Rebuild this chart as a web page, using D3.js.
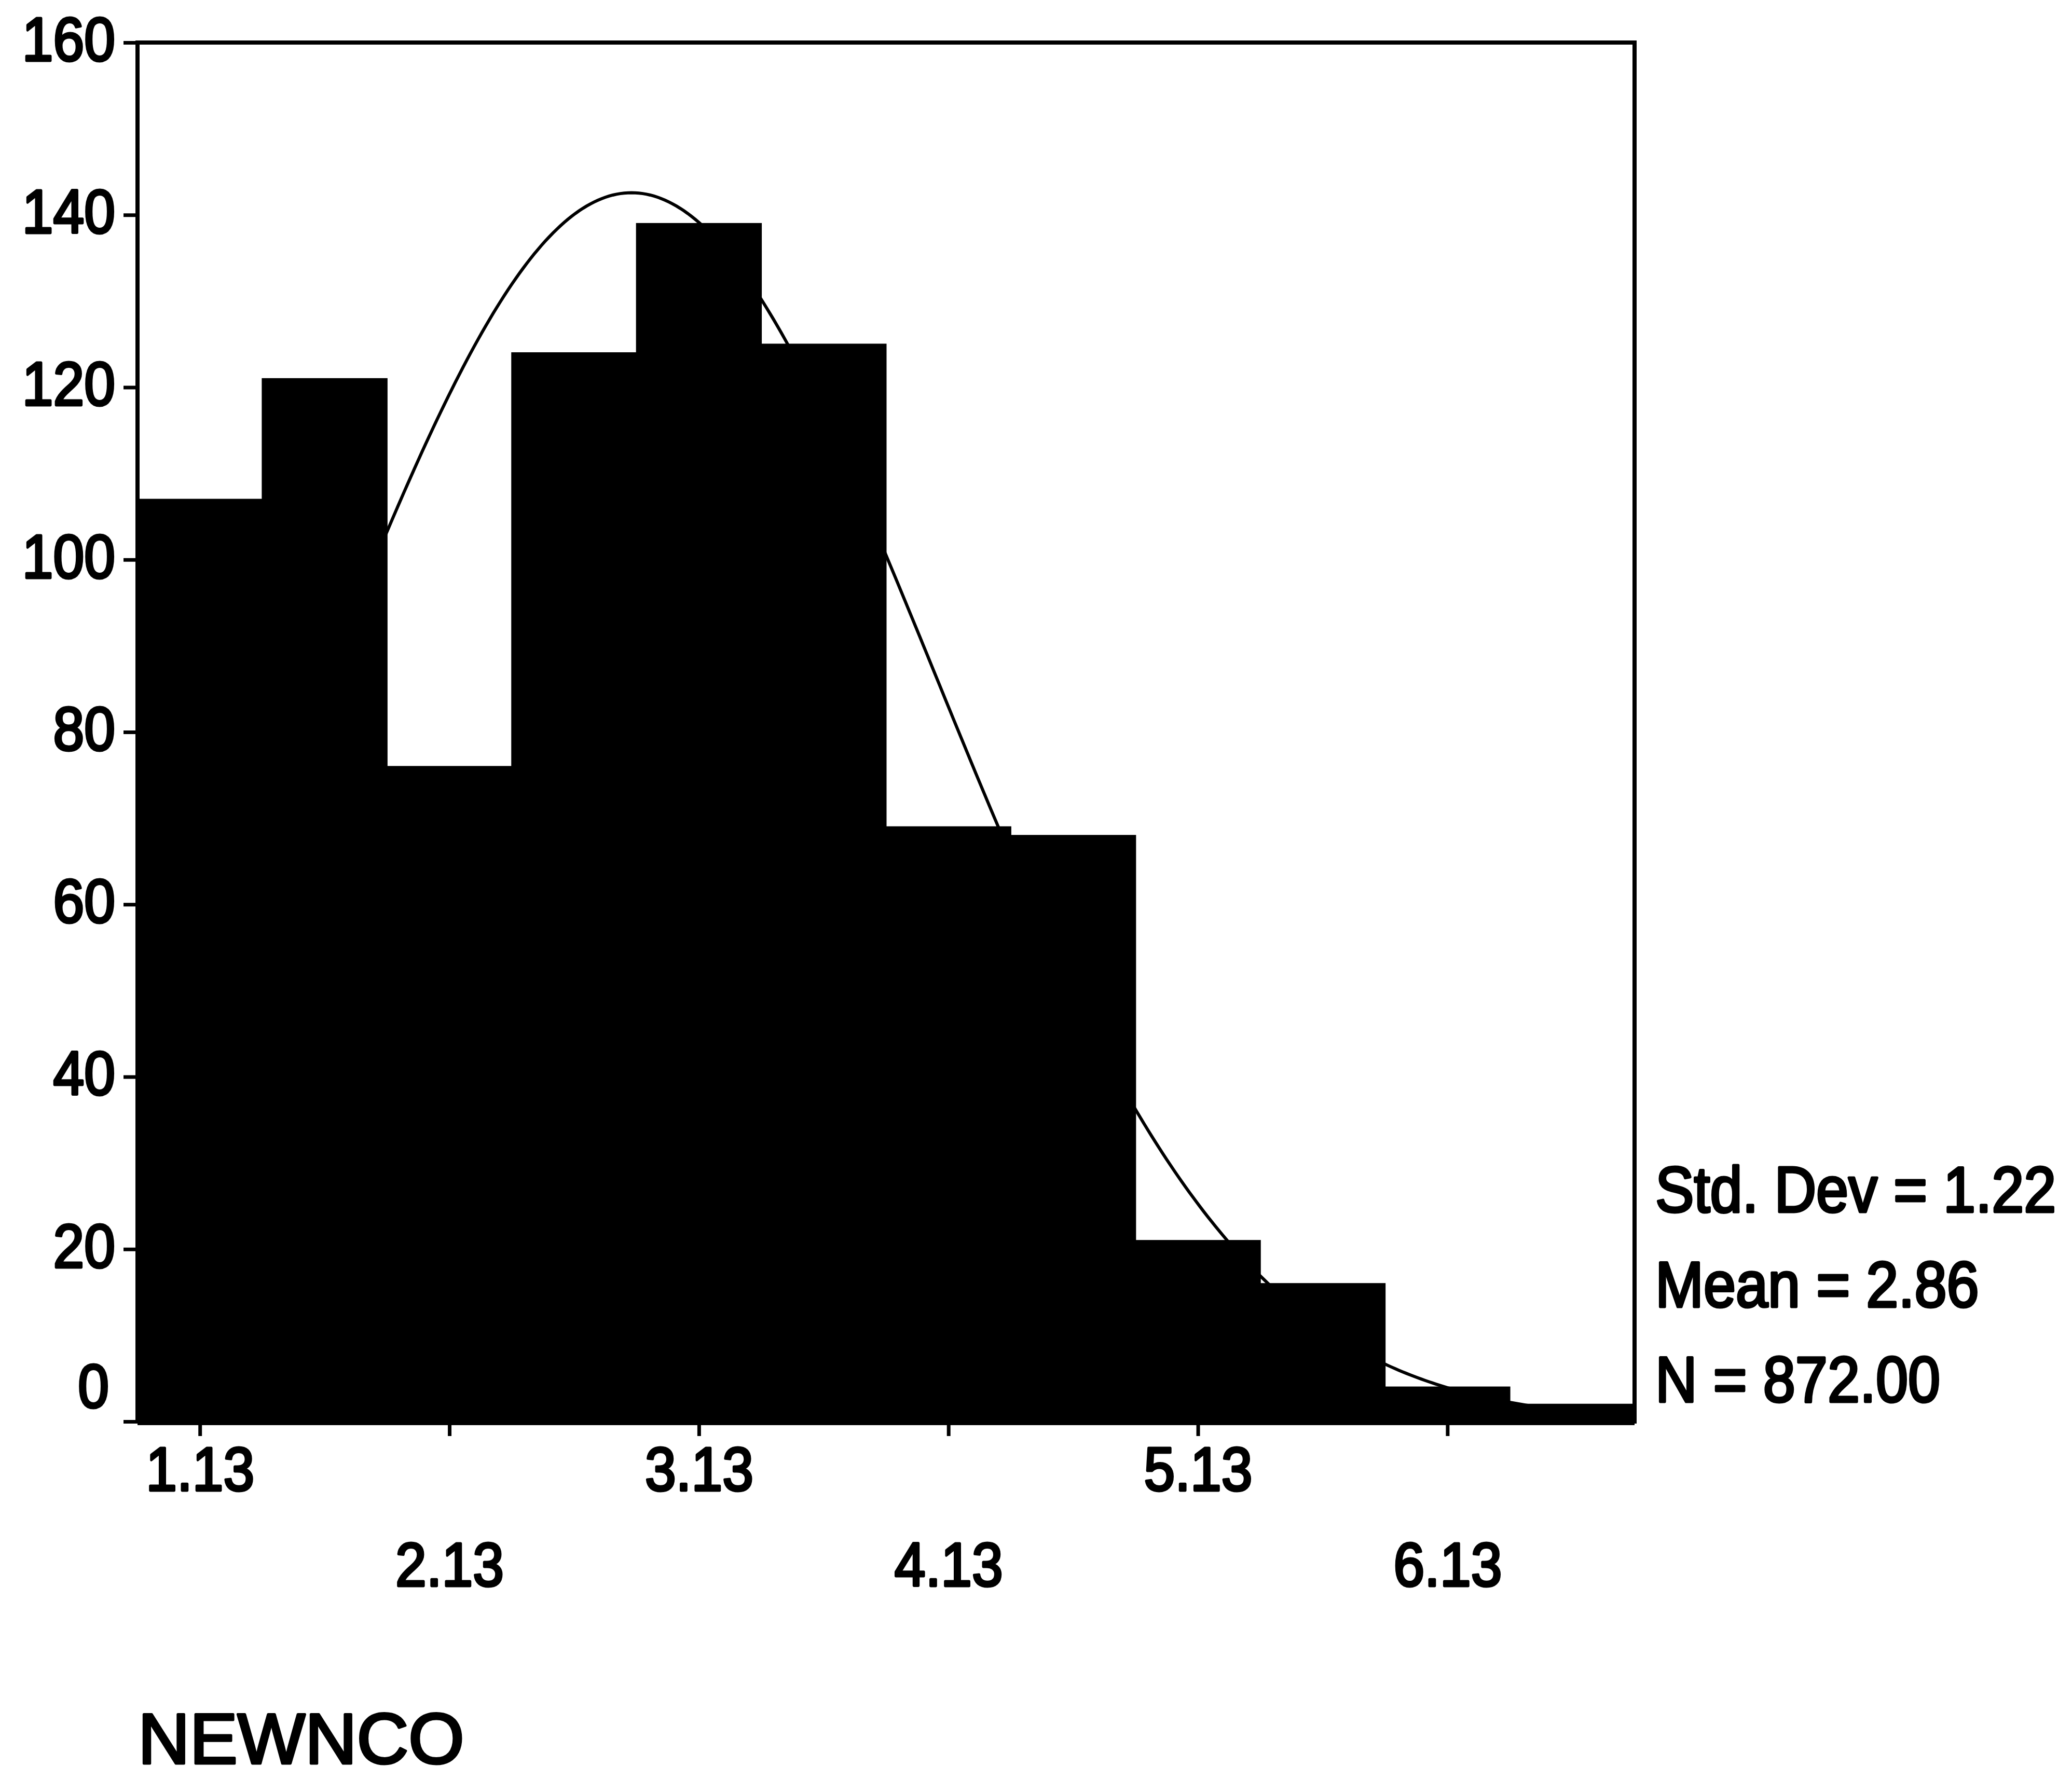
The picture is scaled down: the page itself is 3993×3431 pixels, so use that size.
<!DOCTYPE html>
<html>
<head>
<meta charset="utf-8">
<script src="https://cdn.jsdelivr.net/npm/d3@7"></script>
<style>
  html, body { margin: 0; padding: 0; background: #fff; }
  svg { display: block; }
</style>
</head>
<body>
<svg id="chart" width="3993" height="3431"></svg>
<script>
// Histogram of NEWNCO: bin midpoints and the number of cases in each bin
const binCenters = [1.13, 1.63, 2.13, 2.63, 3.13, 3.63, 4.13, 4.63, 5.13, 5.63, 6.13, 6.63];
const counts     = [107, 121, 76, 124, 139, 125, 69, 68, 21, 16, 4, 2];
const binWidth = 0.5;

// Axis ticks
const xTickValues = [1.13, 2.13, 3.13, 4.13, 5.13, 6.13];
const yTickValues = [0, 20, 40, 60, 80, 100, 120, 140, 160];

// Summary statistics shown beside the plot
const statNames  = ["Std. Dev", "Mean", "N"];
const statValues = [1.22, 2.86, 872];

const variableName = "NEWNCO";

// ---- layout ----
const W = 3993, H = 3431;
const plotLeft = 265, plotRight = 3150, plotTop = 82, plotBottom = 2740;
const FONT = "'Liberation Sans', Arial, Helvetica, sans-serif";

const svg = d3.select("#chart");
svg.append("rect").attr("width", W).attr("height", H).attr("fill", "#fff");

const x = d3.scaleLinear()
  .domain([binCenters[0] - binWidth / 2, binCenters[binCenters.length - 1] + binWidth / 2])
  .range([plotLeft, plotRight]);
const y = d3.scaleLinear().domain([0, 160]).range([plotBottom, plotTop]);

// ---- bars ----
const bins = binCenters.map((c, i) => ({ c, n: counts[i] }));
svg.append("g").selectAll("rect").data(bins).join("rect")
  .attr("x", d => x(d.c - binWidth / 2))
  .attr("width", d => x(d.c + binWidth / 2) - x(d.c - binWidth / 2))
  .attr("y", d => y(d.n))
  .attr("height", d => y(0) - y(d.n))
  .attr("fill", "#000")
  .attr("stroke", "#000")
  .attr("stroke-width", 2);

// ---- normal curve from the reported mean, std. dev and N ----
const sd = statValues[0], mu = statValues[1], nTotal = statValues[2];
const [x0, x1] = x.domain();
const curvePts = d3.range(0, 401).map(k => {
  const v = x0 + (x1 - x0) * k / 400;
  const z = (v - mu) / sd;
  return [v, nTotal * binWidth * Math.exp(-0.5 * z * z) / (sd * Math.sqrt(2 * Math.PI))];
});
svg.append("path")
  .datum(curvePts)
  .attr("fill", "none")
  .attr("stroke", "#000")
  .attr("stroke-width", 6)
  .attr("d", d3.line().x(d => x(d[0])).y(d => y(d[1])));

// ---- frame ----
svg.append("rect")
  .attr("x", plotLeft).attr("y", plotTop)
  .attr("width", plotRight - plotLeft).attr("height", plotBottom - plotTop)
  .attr("fill", "none").attr("stroke", "#000").attr("stroke-width", 8);
svg.append("line")
  .attr("x1", plotLeft).attr("x2", plotRight).attr("y1", plotBottom + 2).attr("y2", plotBottom + 2)
  .attr("stroke", "#000").attr("stroke-width", 10);

// ---- y axis ----
const yFs = 118, ySx = 0.91;
const yAxis = svg.append("g")
  .attr("transform", `translate(${plotLeft},0)`)
  .call(d3.axisLeft(y).tickValues(yTickValues).tickSize(27).tickFormat(d3.format("d")));
yAxis.select(".domain").remove();
yAxis.selectAll(".tick line").attr("stroke", "#000").attr("stroke-width", 7);
yAxis.selectAll(".tick text")
  .attr("font-family", FONT)
  .attr("font-size", yFs)
  .attr("fill", "#000")
  .attr("stroke", "#000").attr("stroke-width", 5).attr("stroke-linejoin", "round")
  .attr("text-anchor", "end")
  .attr("dy", null)
  .attr("transform", `scale(${ySx},1)`)
  .attr("x", d => (d === 0 ? -55 : -43) / ySx)
  .attr("y", d => (d === 0 ? -70 : -8) + 0.358 * yFs);

// ---- x axis ----
const xFs = 118, xSx = 0.91;
const xAxis = svg.append("g")
  .attr("transform", `translate(0,${plotBottom})`)
  .call(d3.axisBottom(x).tickValues(xTickValues).tickSize(28).tickFormat(d3.format(".2f")));
xAxis.select(".domain").remove();
xAxis.selectAll(".tick line").attr("stroke", "#000").attr("stroke-width", 7);
xAxis.selectAll(".tick text")
  .attr("font-family", FONT)
  .attr("font-size", xFs)
  .attr("fill", "#000")
  .attr("stroke", "#000").attr("stroke-width", 5).attr("stroke-linejoin", "round")
  .attr("text-anchor", "middle")
  .attr("dy", null)
  .attr("transform", `scale(${xSx},1)`)
  .attr("x", 0)
  .attr("y", (d, i) => (i % 2 === 0 ? 91 : 275) + 0.358 * xFs);

// ---- statistics block ----
const sFs = 124, sSx = 0.9;
const statCenters = [2292, 2475, 2658];
svg.append("g").selectAll("text").data(statNames).join("text")
  .attr("transform", (d, i) => `translate(3190,${statCenters[i] + 0.358 * sFs}) scale(${sSx},1)`)
  .attr("font-family", FONT)
  .attr("font-size", sFs)
  .attr("fill", "#000")
  .attr("stroke", "#000").attr("stroke-width", 5).attr("stroke-linejoin", "round")
  .text((d, i) => `${d} = ${statValues[i].toFixed(2)}`);

// ---- variable name ----
const tFs = 138;
svg.append("text")
  .attr("x", 266)
  .attr("y", 3350 + 0.358 * tFs)
  .attr("font-family", FONT)
  .attr("font-size", tFs)
  .attr("fill", "#000")
  .attr("stroke", "#000").attr("stroke-width", 5).attr("stroke-linejoin", "round")
  .text(variableName);
</script>
</body>
</html>
